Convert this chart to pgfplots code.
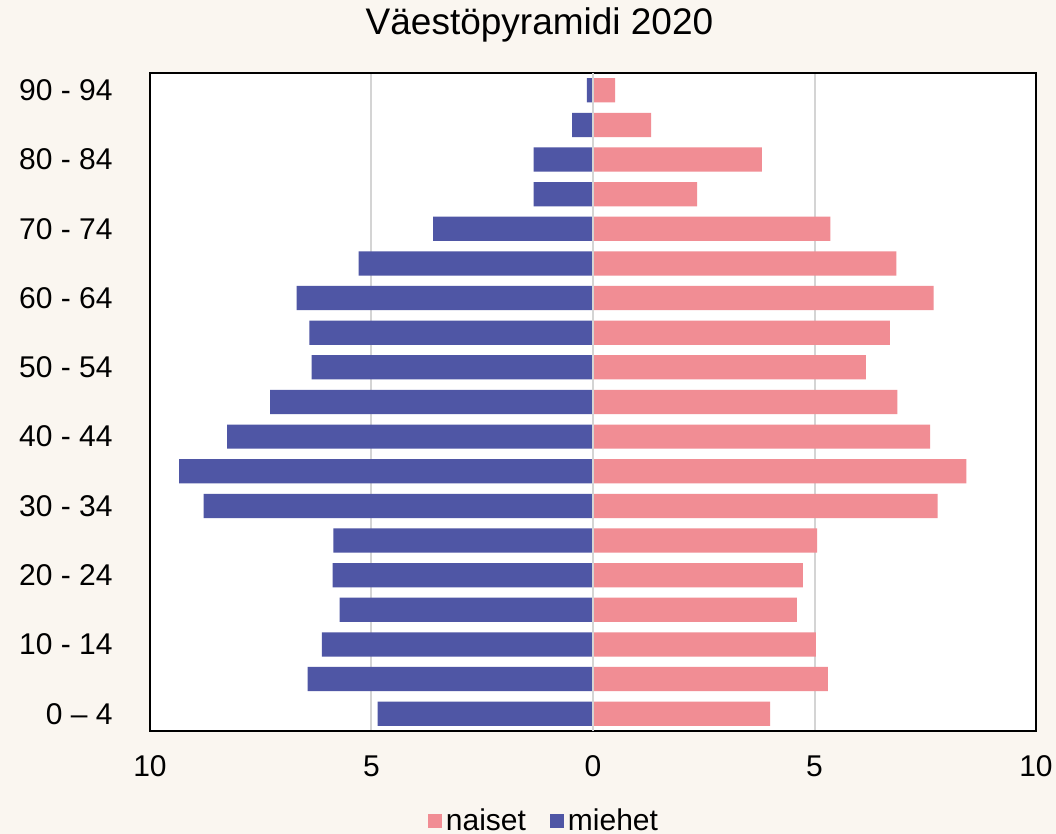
\documentclass[border=0pt]{standalone}
\usepackage{pgfplots}
\pgfplotsset{compat=1.18}
\usepackage{fontspec}
\setmainfont{Liberation Sans}
\definecolor{bgc}{RGB}{250,246,240}
\definecolor{pinkc}{RGB}{241,141,148}
\definecolor{bluec}{RGB}{79,86,165}
\definecolor{gridc}{RGB}{212,212,212}
\begin{document}
\begin{tikzpicture}
\fill[bgc] (-75pt,-51.5pt) rectangle (453pt,365.5pt);
\begin{axis}[
  at={(0pt,0pt)}, anchor=south west,
  scale only axis, width=443pt, height=329pt,
  xmin=-10, xmax=10, ymin=-0.5, ymax=18.5,
  axis background/.style={fill=white},
  axis line style={black, line width=1pt},
  xtick={-10,-5,0,5,10}, xticklabels={10,5,0,5,10},
  ytick={0,2,...,18},
  yticklabels={0 – 4\hspace{-4pt}, 10 - 14, 20 - 24, 30 - 34, 40 - 44, 50 - 54, 60 - 64, 70 - 74, 80 - 84, 90 - 94},
  major tick length=0pt,
  xmajorgrids, grid style={gridc, line width=1pt},
  ticklabel style={font=\fontsize{15}{18}\selectfont},
  xticklabel style={anchor=base, yshift=-23pt, inner sep=0pt},
  yticklabel style={anchor=east, xshift=-18.5pt, inner sep=0pt},
  title={Väestöpyramidi 2020},
  title style={at={(0.4396,1)}, anchor=base, yshift=13pt, inner sep=0pt, font=\fontsize{18.5}{22}\selectfont},
  legend style={at={(0.4458,-0.1368)}, anchor=center, draw=none, fill=none,
    font=\fontsize{15}{18}\selectfont, legend columns=-1,
    /tikz/every even column/.append style={column sep=10pt}},
]
\addplot[xbar, bar shift=0pt, bar width=0.70, fill=pinkc, draw=none,
  legend image code/.code={\fill[pinkc] (0pt,-3.5pt) rectangle (7pt,3.5pt);}]
  coordinates {(4.00,0) (5.30,1) (5.03,2) (4.60,3) (4.74,4) (5.06,5) (7.78,6) (8.43,7) (7.61,8) (6.87,9) (6.16,10) (6.70,11) (7.69,12) (6.85,13) (5.36,14) (2.35,15) (3.81,16) (1.31,17) (0.50,18)};
\addlegendentry{naiset}
\addplot[xbar, bar shift=0pt, bar width=0.70, fill=bluec, draw=none,
  legend image code/.code={\fill[bluec] (0pt,-3.5pt) rectangle (7pt,3.5pt);}]
  coordinates {(-4.86,0) (-6.44,1) (-6.12,2) (-5.72,3) (-5.88,4) (-5.86,5) (-8.79,6) (-9.34,7) (-8.26,8) (-7.29,9) (-6.35,10) (-6.40,11) (-6.69,12) (-5.29,13) (-3.61,14) (-1.34,15) (-1.34,16) (-0.47,17) (-0.14,18)};
\addlegendentry{miehet}
\draw[gridc, line width=1pt] (axis cs:0,-0.5) -- (axis cs:0,18.5);
\end{axis}
\pgfresetboundingbox
\useasboundingbox (-75pt,-51.5pt) rectangle (453pt,365.5pt);
\end{tikzpicture}
\end{document}
